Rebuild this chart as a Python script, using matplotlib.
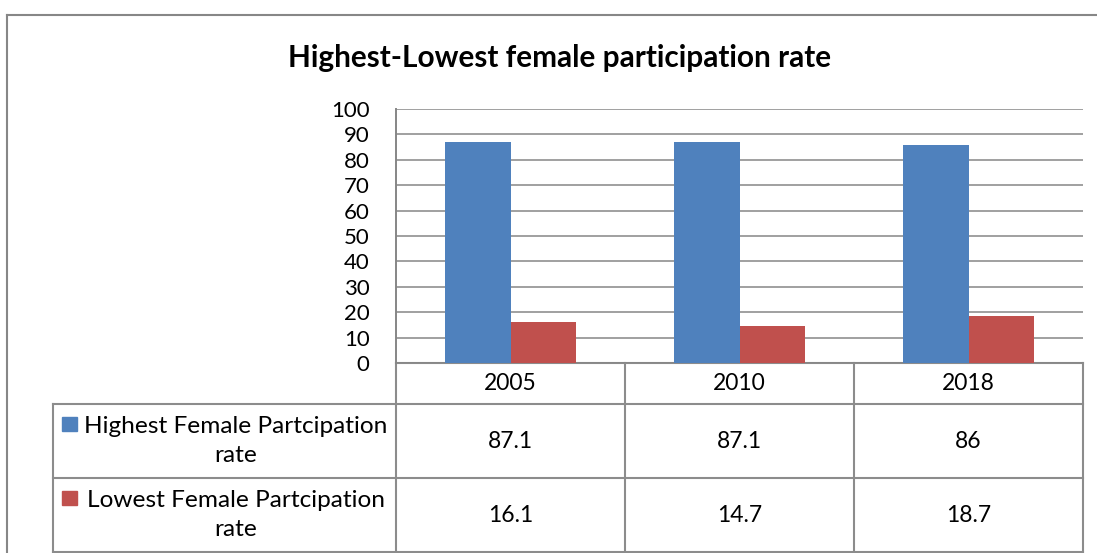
import matplotlib
matplotlib.use("Agg")
import matplotlib.pyplot as plt
from matplotlib.patches import Rectangle

# chart data
YEARS = ["2005", "2010", "2018"]
HIGHEST = [87.1, 87.1, 86]
LOWEST = [16.1, 14.7, 18.7]
SERIES_LABELS = ["Highest Female Partcipation\nrate", "Lowest Female Partcipation\nrate"]
SERIES_COLORS = ["#4F81BD", "#C0504D"]
Y_TICKS = list(range(0, 101, 10))
TITLE = "Highest-Lowest female participation rate"

W, H = 1097, 553
FRAME = "#878787"
GRID = "#868686"
TABLE_LINE = "#8c8c8c"

plt.rcParams["font.family"] = ["Lato", "DejaVu Sans"]

fig = plt.figure(figsize=(W / 100, H / 100), dpi=100)

# full-figure canvas in pixel units (y down) for the frame and data table
canvas = fig.add_axes([0, 0, 1, 1])
canvas.set_xlim(0, W)
canvas.set_ylim(H, 0)
canvas.axis("off")

# plot area box
left, right, top, bottom = 396, 1083, 109, 363
ax = fig.add_axes([left / W, 1 - bottom / H, (right - left) / W, (bottom - top) / H])

n = len(YEARS)
bw = 1 / 3.5
xs = list(range(n))
ax.bar([x - bw / 2 for x in xs], HIGHEST, bw, color=SERIES_COLORS[0], zorder=3)
ax.bar([x + bw / 2 for x in xs], LOWEST, bw, color=SERIES_COLORS[1], zorder=3)
ax.set_xlim(-0.5, n - 0.5)
ax.set_ylim(0, 100)
ax.set_yticks(Y_TICKS)
ax.set_xticks([])
ax.yaxis.grid(True, color=GRID, lw=1.1)
ax.set_axisbelow(True)
for side in ["top", "right", "bottom"]:
    ax.spines[side].set_visible(False)
ax.spines["left"].set_color(GRID)
ax.spines["left"].set_linewidth(1.4)
ax.tick_params(axis="y", length=0, pad=19, labelsize=16)
ax.set_facecolor("none")

# outer chart border (left and top edges are visible)
canvas.plot([7, 7], [H + 5, 15], color=FRAME, lw=1.5)
canvas.plot([7, W + 5], [15, 15], color=FRAME, lw=1.5)

canvas.text(560, 58, TITLE, ha="center", va="center", fontsize=21.4, fontweight="bold")

# data table below the plot
row_y = [bottom, 404, 478, 552]
col_w = (right - left) / n
col_x = [left + i * col_w for i in range(n + 1)]
legend_left = 53

lk = dict(color=TABLE_LINE, lw=1.5, solid_capstyle="projecting")
canvas.plot([left, right], [row_y[0], row_y[0]], **lk)
for y in row_y[1:]:
    canvas.plot([legend_left, right], [y, y], **lk)
canvas.plot([legend_left, legend_left], [row_y[1], row_y[3]], **lk)
for x in col_x:
    canvas.plot([x, x], [row_y[0], row_y[3]], **lk)

for i, year in enumerate(YEARS):
    cx = (col_x[i] + col_x[i + 1]) / 2
    canvas.text(cx, (row_y[0] + row_y[1]) / 2, year, ha="center", va="center", fontsize=16.5)

for r, values in enumerate([HIGHEST, LOWEST]):
    y0, y1 = row_y[r + 1], row_y[r + 2]
    cy = (y0 + y1) / 2
    canvas.text(236, cy, SERIES_LABELS[r], ha="center", va="center",
                multialignment="center", fontsize=17.6, linespacing=1.45)
    canvas.add_patch(Rectangle((62, y0 + 13), 15, 14, color=SERIES_COLORS[r]))
    for i, v in enumerate(values):
        cx = (col_x[i] + col_x[i + 1]) / 2
        canvas.text(cx, cy, f"{v:g}", ha="center", va="center", fontsize=16.5)

fig.savefig("out.png", dpi=100)
